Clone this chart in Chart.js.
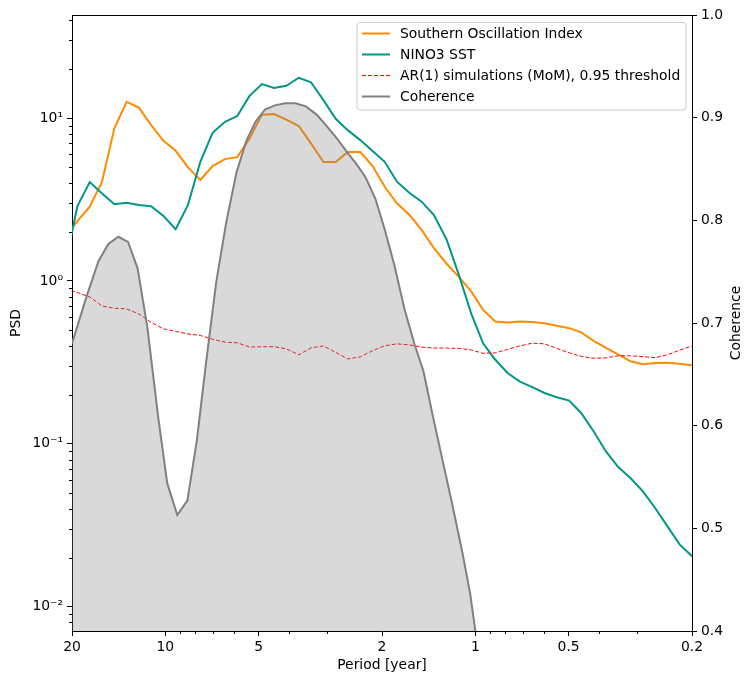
<!DOCTYPE html>
<html>
<head>
<meta charset="utf-8">
<script src="https://cdn.jsdelivr.net/npm/chart.js@4.4.1/dist/chart.umd.min.js"></script>
<style>
  html, body { margin: 0; padding: 0; background: #fff; }
  #wrap { width: 753px; height: 684px; }
</style>
</head>
<body>
<div id="wrap"><canvas id="chart" width="753" height="684"></canvas></div>
<script>
// periods [year] of the spectral estimates
const psdPeriods = [21.05, 19.21, 17.53, 16.00, 14.60, 13.33, 12.17, 11.11, 10.14, 9.26,
  8.45, 7.71, 7.04, 6.42, 5.86, 5.35, 4.88, 4.46, 4.07, 3.71,
  3.39, 3.09, 2.82, 2.58, 2.35, 2.15, 1.96, 1.79, 1.63, 1.49,
  1.36, 1.24, 1.13, 1.03, 0.944, 0.862, 0.787, 0.718, 0.655, 0.598,
  0.546, 0.498, 0.455, 0.415, 0.379, 0.346, 0.316, 0.288, 0.263, 0.240,
  0.219, 0.200];

const soiPsd = [1.86, 2.33, 2.86, 4.07, 8.65, 12.6, 11.6, 9.06, 7.26, 6.30,
  4.98, 4.17, 5.08, 5.60, 5.76, 7.51, 10.5, 10.6, 9.79, 8.93,
  7.00, 5.37, 5.37, 6.20, 6.19, 5.11, 3.79, 3.00, 2.54, 2.06,
  1.59, 1.28, 1.06, 0.860, 0.664, 0.563, 0.555, 0.563, 0.560, 0.550,
  0.530, 0.513, 0.483, 0.428, 0.388, 0.354, 0.321, 0.308, 0.313, 0.315,
  0.310, 0.304];

const nino3Psd = [1.24, 2.88, 4.05, 3.45, 2.96, 3.02, 2.93, 2.88, 2.51, 2.08,
  2.93, 5.39, 8.12, 9.49, 10.3, 13.7, 16.2, 15.3, 15.8, 17.7,
  16.6, 12.9, 9.90, 8.44, 7.33, 6.30, 5.39, 4.07, 3.47, 3.07,
  2.54, 1.81, 1.09, 0.627, 0.414, 0.328, 0.272, 0.241, 0.223, 0.205,
  0.193, 0.184, 0.154, 0.119, 0.0897, 0.0720, 0.0616, 0.0510, 0.0403, 0.0311,
  0.0240, 0.0204];

const ar1Threshold = [0.893, 0.850, 0.798, 0.702, 0.680, 0.673, 0.627, 0.556, 0.508, 0.490,
  0.473, 0.463, 0.438, 0.421, 0.417, 0.393, 0.394, 0.395, 0.383, 0.352,
  0.388, 0.399, 0.364, 0.332, 0.342, 0.372, 0.400, 0.411, 0.405, 0.392,
  0.387, 0.387, 0.385, 0.377, 0.359, 0.362, 0.380, 0.399, 0.415, 0.411,
  0.385, 0.362, 0.344, 0.335, 0.337, 0.347, 0.347, 0.343, 0.338, 0.352,
  0.376, 0.399];

// coherence has its own period grid
const cohPeriods = [20.0, 18.03, 16.45, 15.27, 14.18, 13.19, 12.28, 11.43, 10.53, 9.86,
  9.15, 8.49, 7.91, 7.37, 6.85, 6.36, 5.89, 5.47, 5.12, 4.77,
  4.43, 4.11, 3.80, 3.52, 3.25, 3.02, 2.80, 2.60, 2.42, 2.26,
  2.10, 1.96, 1.83, 1.69, 1.57, 1.47, 1.37, 1.29, 1.19, 1.10,
  1.04, 0.98];

const coherence = [0.680, 0.724, 0.760, 0.777, 0.784, 0.779, 0.753, 0.696, 0.607, 0.544,
  0.513, 0.527, 0.586, 0.664, 0.740, 0.798, 0.847, 0.878, 0.896, 0.908,
  0.912, 0.914, 0.914, 0.911, 0.903, 0.892, 0.880, 0.867, 0.855, 0.842,
  0.821, 0.791, 0.758, 0.713, 0.679, 0.653, 0.609, 0.573, 0.525, 0.476,
  0.437, 0.382];

// axis ticks
const xMajorTicks = [20, 10, 5, 2, 1, 0.5, 0.2];
const xMinorTicks = [9, 8, 7, 6, 4, 3, 0.9, 0.8, 0.7, 0.6, 0.4, 0.3];
const psdMajorTicks = [0.01, 0.1, 1, 10];
const psdTickLabels = ['10\u207B\u00B2', '10\u207B\u00B9', '10\u2070', '10\u00B9'];
const psdMinorTicks = [0.008, 0.009,
  0.02, 0.03, 0.04, 0.05, 0.06, 0.07, 0.08, 0.09,
  0.2, 0.3, 0.4, 0.5, 0.6, 0.7, 0.8, 0.9,
  2, 3, 4, 5, 6, 7, 8, 9,
  20, 30, 40];
const cohTicks = [0.4, 0.5, 0.6, 0.7, 0.8, 0.9, 1.0];

const FONT = 'DejaVu Sans';
const FS = 13.9;

const toXY = (xs, ys) => xs.map((x, i) => ({ x: x, y: ys[i] }));

// top spine, minor ticks, right axis title and the legend box
const extras = {
  id: 'extras',
  afterDraw(chart) {
    const { ctx, chartArea: a, scales } = chart;
    ctx.save();
    ctx.strokeStyle = '#000';
    ctx.lineWidth = 1;
    ctx.beginPath();
    ctx.moveTo(a.left, Math.round(a.top) + 0.5);
    ctx.lineTo(a.right, Math.round(a.top) + 0.5);
    xMinorTicks.forEach(v => {
      const px = Math.round(scales.x.getPixelForValue(v)) + 0.5;
      ctx.moveTo(px, a.bottom);
      ctx.lineTo(px, a.bottom + 3);
    });
    psdMinorTicks.forEach(v => {
      const py = Math.round(scales.y.getPixelForValue(v)) + 0.5;
      ctx.moveTo(a.left, py);
      ctx.lineTo(a.left - 3, py);
    });
    ctx.stroke();

    // right axis title, reads bottom to top
    ctx.save();
    ctx.translate(736, (a.top + a.bottom) / 2);
    ctx.rotate(-Math.PI / 2);
    ctx.font = FS + 'px "' + FONT + '"';
    ctx.fillStyle = '#000';
    ctx.textAlign = 'center';
    ctx.textBaseline = 'middle';
    ctx.fillText('Coherence', 0, 0);
    ctx.restore();

    // legend
    const bx = 357, by = 22.5, bw = 329, bh = 87.5;
    ctx.beginPath();
    if (ctx.roundRect) ctx.roundRect(bx, by, bw, bh, 3); else ctx.rect(bx, by, bw, bh);
    ctx.fillStyle = 'rgba(255,255,255,0.8)';
    ctx.fill();
    ctx.strokeStyle = '#cccccc';
    ctx.stroke();
    ctx.font = FS + 'px "' + FONT + '"';
    ctx.textAlign = 'left';
    ctx.textBaseline = 'middle';
    chart.data.datasets.forEach((ds, i) => {
      const yy = 33.5 + i * 21;
      ctx.beginPath();
      ctx.strokeStyle = ds.borderColor;
      ctx.lineWidth = ds.borderWidth;
      ctx.setLineDash(ds.borderDash || []);
      ctx.moveTo(362, yy);
      ctx.lineTo(390, yy);
      ctx.stroke();
      ctx.setLineDash([]);
      ctx.fillStyle = '#000';
      ctx.fillText(ds.label, 400, yy + 0.5);
    });
    ctx.restore();
  }
};

new Chart(document.getElementById('chart'), {
  type: 'line',
  data: {
    datasets: [
      {
        label: 'Southern Oscillation Index',
        data: toXY(psdPeriods, soiPsd),
        borderColor: '#ff8c00',
        borderWidth: 2,
        pointRadius: 0,
        yAxisID: 'y',
        order: 3,
        clip: 0
      },
      {
        label: 'NINO3 SST',
        data: toXY(psdPeriods, nino3Psd),
        borderColor: '#009688',
        borderWidth: 2,
        pointRadius: 0,
        yAxisID: 'y',
        order: 2,
        clip: 0
      },
      {
        label: 'AR(1) simulations (MoM), 0.95 threshold',
        data: toXY(psdPeriods, ar1Threshold),
        borderColor: '#ff0000',
        borderWidth: 1,
        borderDash: [4, 2],
        pointRadius: 0,
        yAxisID: 'y',
        order: 1,
        clip: 0
      },
      {
        label: 'Coherence',
        data: toXY(cohPeriods, coherence),
        borderColor: '#808080',
        borderWidth: 2,
        backgroundColor: 'rgba(128,128,128,0.3)',
        fill: { value: 0 },
        pointRadius: 0,
        yAxisID: 'y1',
        order: 0,
        clip: 0
      }
    ]
  },
  options: {
    responsive: false,
    animation: false,
    events: [],
    devicePixelRatio: 1,
    layout: { padding: { top: 15, left: 0, right: 0, bottom: 0 } },
    plugins: {
      legend: { display: false },
      tooltip: { enabled: false }
    },
    scales: {
      x: {
        type: 'logarithmic',
        position: 'bottom',
        reverse: true,
        min: 0.2,
        max: 20,
        afterBuildTicks: s => { s.ticks = xMajorTicks.map(v => ({ value: v })); },
        afterFit: s => { s.height = 53; },
        ticks: {
          autoSkip: false,
          maxRotation: 0,
          padding: 3,
          color: '#000',
          font: { family: FONT, size: FS },
          callback: v => String(v)
        },
        grid: { drawOnChartArea: false, tickLength: 5, tickColor: '#000' },
        border: { color: '#000', width: 1 },
        title: {
          display: true,
          text: 'Period [year]',
          color: '#000',
          font: { family: FONT, size: FS },
          padding: { top: 0, bottom: 10 }
        }
      },
      y: {
        type: 'logarithmic',
        position: 'left',
        min: 0.00708,
        max: 43,
        afterBuildTicks: s => { s.ticks = psdMajorTicks.map(v => ({ value: v })); },
        afterFit: s => { s.width = 72; },
        ticks: {
          autoSkip: false,
          padding: 4,
          color: '#000',
          font: { family: FONT, size: FS },
          callback: v => psdTickLabels[psdMajorTicks.indexOf(v)]
        },
        grid: { drawOnChartArea: false, tickLength: 5, tickColor: '#000' },
        border: { color: '#000', width: 1 },
        title: {
          display: true,
          text: 'PSD',
          color: '#000',
          font: { family: FONT, size: FS },
          padding: { top: 8, bottom: 0 }
        }
      },
      y1: {
        type: 'linear',
        position: 'right',
        min: 0.4,
        max: 1.0,
        afterBuildTicks: s => { s.ticks = cohTicks.map(v => ({ value: v })); },
        afterFit: s => { s.width = 61; },
        ticks: {
          autoSkip: false,
          padding: 4,
          color: '#000',
          font: { family: FONT, size: FS },
          callback: v => v.toFixed(1)
        },
        grid: { drawOnChartArea: false, tickLength: 5, tickColor: '#000' },
        border: { color: '#000', width: 1 }
      }
    }
  },
  plugins: [extras]
});
</script>
</body>
</html>
